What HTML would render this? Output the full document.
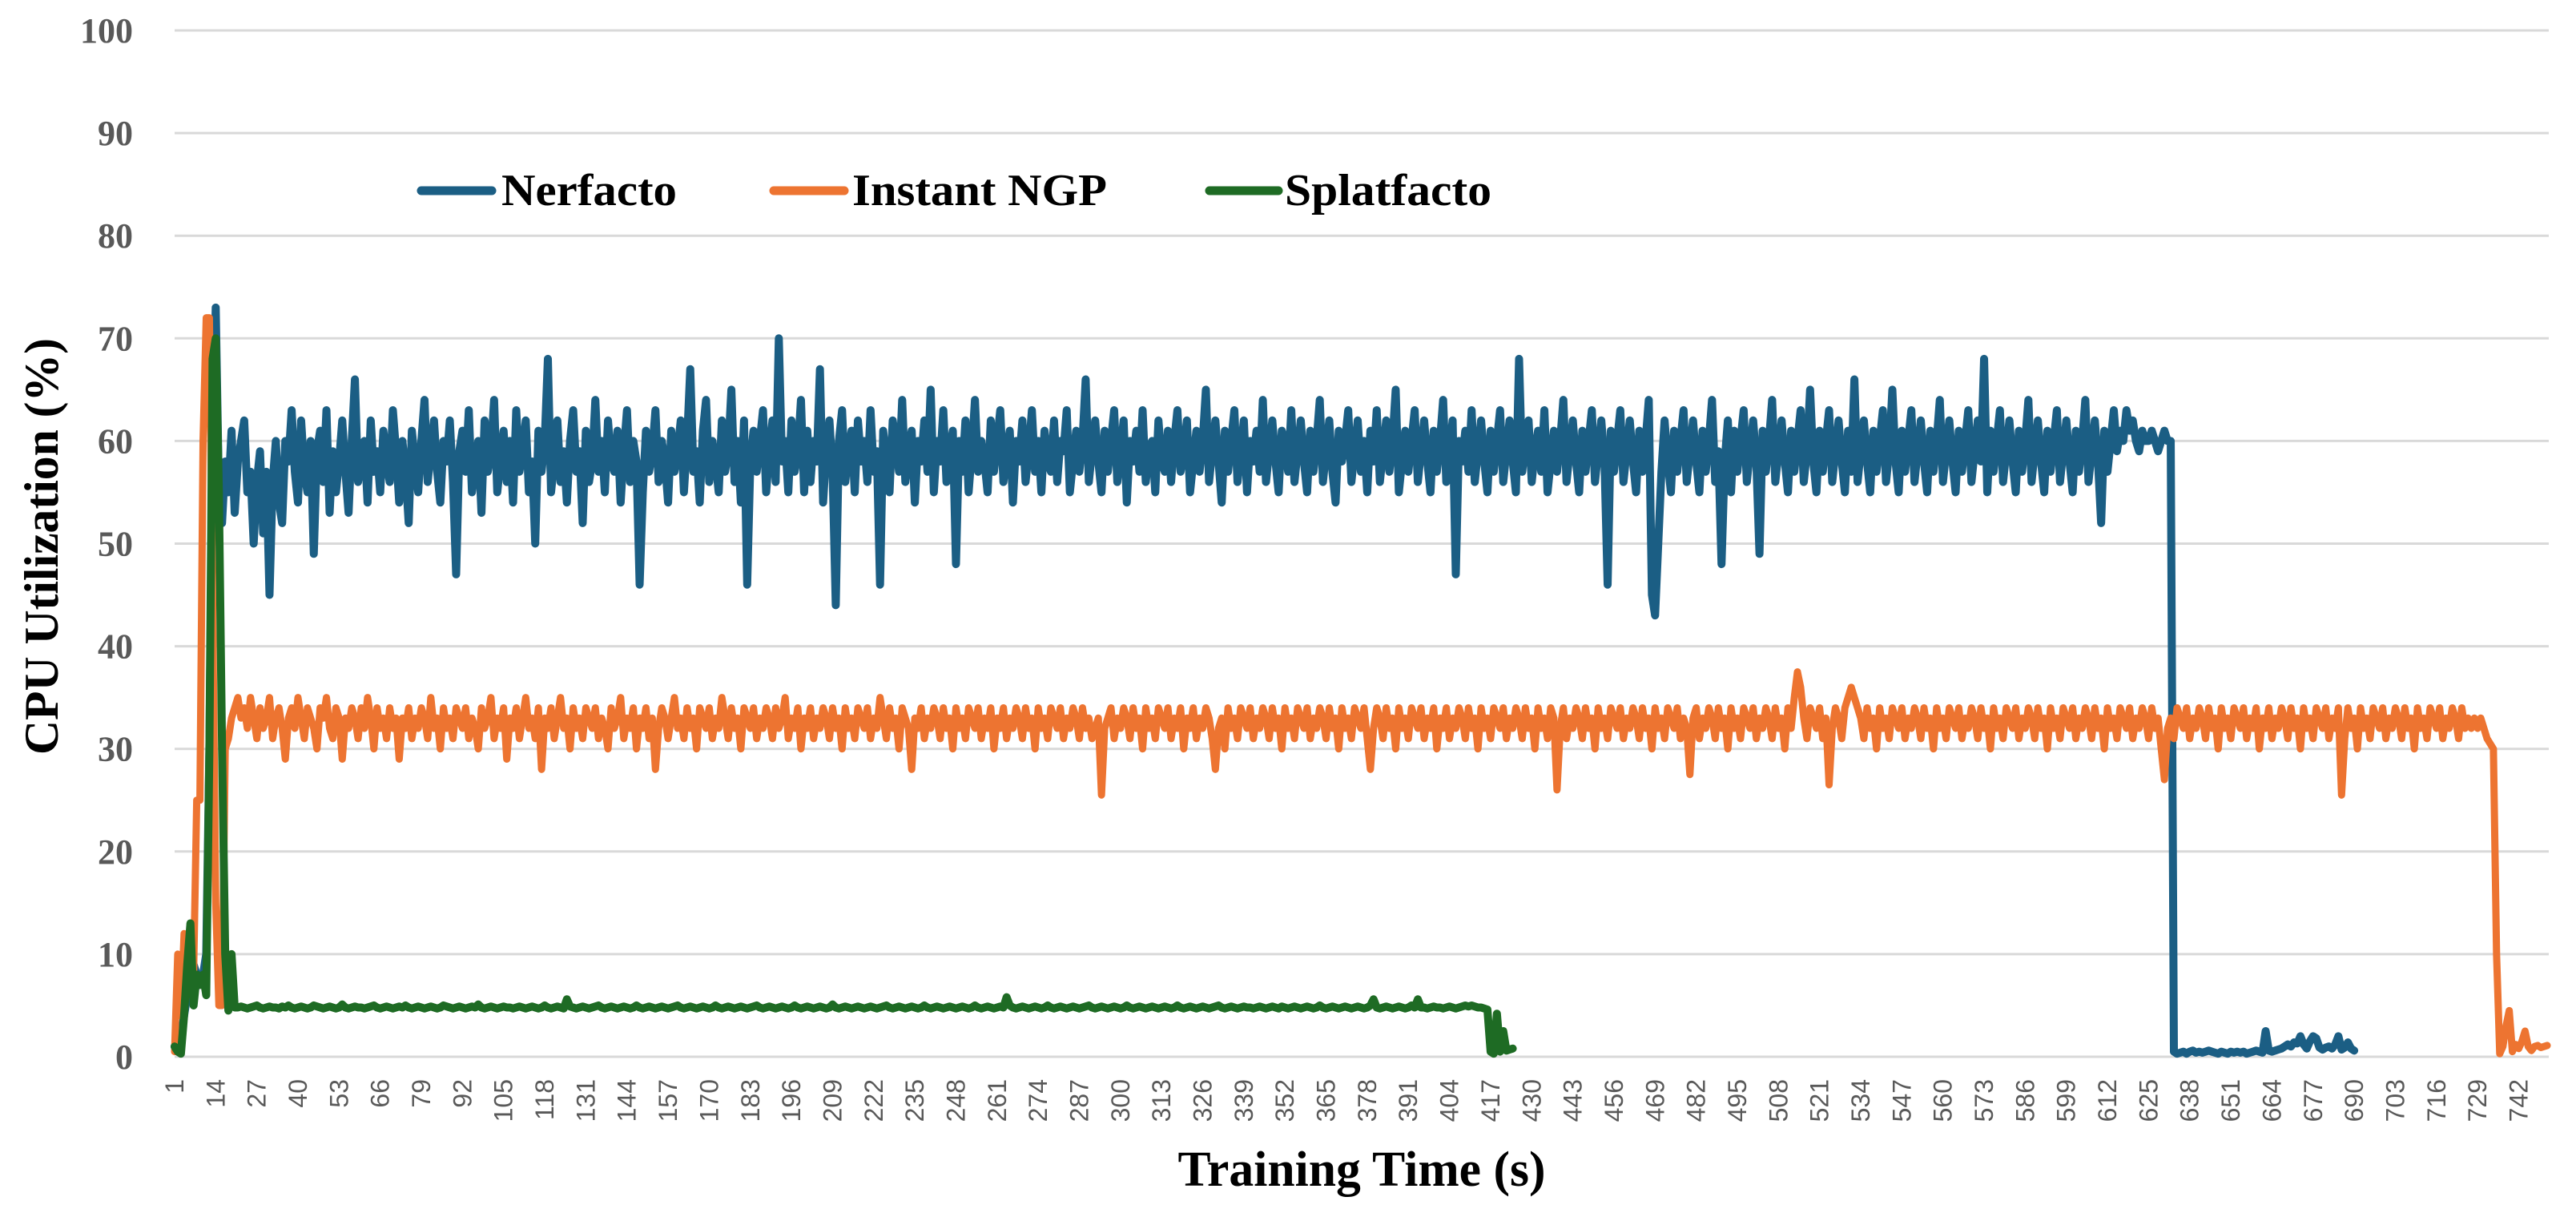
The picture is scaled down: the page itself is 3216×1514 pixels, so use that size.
<!DOCTYPE html>
<html><head><meta charset="utf-8"><style>
html,body{margin:0;padding:0;background:#fff;}
svg{display:block;}
</style></head><body>
<svg id="chart" width="3216" height="1514" viewBox="0 0 3216 1514" xmlns="http://www.w3.org/2000/svg">
<rect width="3216" height="1514" fill="#fff"/>
<g id="grid"></g>
<g id="yticks"></g>
<g id="xticks"></g>
<g id="series"></g>
<text transform="translate(72,682) rotate(-90)" text-anchor="middle" font-family="Liberation Serif, serif" font-weight="bold" font-size="60" fill="#000" textLength="520" lengthAdjust="spacingAndGlyphs">CPU Utilization (%)</text>
<text x="1700" y="1480" text-anchor="middle" font-family="Liberation Serif, serif" font-weight="bold" font-size="62" fill="#000" textLength="459" lengthAdjust="spacingAndGlyphs">Training Time (s)</text>
<g>
  <g>
    <line x1="526" y1="238" x2="614" y2="238" stroke="#1b5e84" stroke-width="11" stroke-linecap="round"/>
    <text x="626" y="256" font-family="Liberation Serif, serif" font-weight="bold" font-size="56" fill="#000" textLength="219" lengthAdjust="spacingAndGlyphs">Nerfacto</text>
  </g>
  <g>
    <line x1="966" y1="238" x2="1054" y2="238" stroke="#ed7431" stroke-width="11" stroke-linecap="round"/>
    <text x="1064" y="256" font-family="Liberation Serif, serif" font-weight="bold" font-size="56" fill="#000" textLength="318" lengthAdjust="spacingAndGlyphs">Instant NGP</text>
  </g>
  <g>
    <line x1="1510" y1="238" x2="1596" y2="238" stroke="#1e6b24" stroke-width="11" stroke-linecap="round"/>
    <text x="1604" y="256" font-family="Liberation Serif, serif" font-weight="bold" font-size="56" fill="#000" textLength="258" lengthAdjust="spacingAndGlyphs">Splatfacto</text>
  </g>
</g>
</svg>
<script>
const yTicks = [0,10,20,30,40,50,60,70,80,90,100];
const xTickStep = 13;
const xTickLast = 742;
const categoryCount = 751;

const nerfacto = [1,0.5,2,4,6,8,9,8,7,8,10,30,60,73,55,
52,58,55,61,53,58,60,62,55,57,50,56,59,51,57,45,56,60,54,52,
60,58,63,57,54,62,57,55,60,49,59,61,56,63,53,59,55,58,62,57,
53,60,66,56,58,60,54,62,57,59,55,61,58,56,63,59,54,60,57,52,
61,58,55,60,64,56,59,62,57,54,60,58,62,56,47,59,61,57,63,55,
58,60,53,62,57,59,64,55,58,61,56,60,54,63,57,59,62,55,58,50,
61,57,60,68,55,58,62,56,59,54,60,63,57,59,52,61,56,58,64,57,
60,55,62,58,57,61,54,59,63,56,60,58,46,55,61,57,59,63,56,60,
58,54,61,57,59,62,55,60,67,57,59,54,61,64,56,60,58,55,62,57,
59,65,56,60,54,62,46,58,61,57,60,63,55,59,62,56,70,58,60,55,
62,57,59,64,55,61,56,60,58,67,54,59,62,57,44,60,63,56,59,61,
55,62,58,60,56,63,57,59,46,61,58,55,62,60,57,64,56,59,61,54,
60,58,62,57,65,55,60,58,63,56,59,61,48,60,57,62,55,59,64,57,
60,58,55,62,57,60,63,56,59,61,54,60,58,62,56,59,63,57,60,55,
61,58,57,62,56,60,59,63,55,58,61,57,60,66,56,59,62,58,55,61,
57,60,63,56,59,62,54,60,58,61,57,63,56,59,60,55,62,58,57,61,
56,60,63,57,59,62,55,58,61,57,60,65,56,59,62,58,54,61,57,60,
63,56,59,62,55,60,58,61,57,64,56,59,62,58,55,61,60,57,63,56,
59,62,58,55,61,57,60,64,56,59,62,57,54,61,58,60,63,56,59,62,
57,60,55,61,58,63,56,59,62,57,60,65,55,58,61,57,60,63,56,59,
62,58,55,61,57,60,64,56,59,62,47,60,58,61,57,63,56,59,62,58,
55,61,57,60,63,56,59,62,58,55,68,57,60,62,56,59,61,57,63,55,
58,61,57,60,64,56,59,62,58,55,61,57,60,63,56,59,62,58,46,61,
57,60,63,56,59,62,58,55,61,57,60,64,45,43,50,57,62,58,55,61,
57,60,63,56,59,62,58,55,61,57,60,64,56,59,48,58,62,55,61,57,
60,63,56,59,62,58,49,61,57,60,64,56,59,62,58,55,61,57,60,63,
56,59,65,58,55,61,57,60,63,56,59,62,58,55,61,57,66,56,59,62,
58,55,61,57,60,63,56,59,65,58,55,61,57,60,63,56,59,62,58,55,
61,57,60,64,56,59,62,58,55,61,57,60,63,56,59,62,58,68,55,61,
57,60,63,56,59,62,58,55,61,57,60,64,56,59,62,58,55,61,57,60,
63,56,59,62,58,55,61,57,60,64,56,59,62,58,52,61,57,60,63,59,
61,60,63,61,62,60,59,61,60,60,61,60,59,60,61,60,60,
0.5,0.3,0.4,0.5,0.3,0.5,0.6,0.4,0.5,0.4,0.5,0.6,0.5,0.4,0.3,0.5,0.4,0.3,0.5,0.4,
0.5,0.4,0.5,0.3,0.4,0.5,0.6,0.5,0.4,2.5,0.6,0.5,0.6,0.7,0.8,1.0,1.2,1.0,1.4,1.3,
2.0,1.2,0.8,1.5,2.0,1.8,0.9,0.7,0.9,1.0,0.8,1.2,2.0,0.7,0.9,1.4,0.8,0.6];

const instantNgp = [0.5,10,4,12,10,13,8,25,25,60,72,72,45,15,5,5,30,
31,33,34,35,33,34,32,35,33,31,34,32,33,35,31,33,34,32,29,33,
34,32,35,33,31,34,33,32,30,34,33,35,32,31,34,33,29,33,32,34,
33,31,34,32,35,33,30,34,32,33,31,34,32,33,29,33,32,34,31,33,
32,34,33,31,35,32,33,30,34,32,33,31,34,33,32,34,31,33,32,30,
34,32,33,35,31,33,32,34,29,33,32,34,31,33,35,32,33,31,34,28,
33,32,34,31,33,35,32,33,30,34,32,33,31,34,33,32,34,31,33,32,
30,34,32,33,35,31,33,32,34,30,33,32,34,31,33,28,32,34,33,31,
33,35,32,33,31,34,32,33,30,34,33,32,34,31,33,32,35,33,31,34,
32,33,30,34,33,32,34,31,33,32,34,33,31,34,32,33,35,31,33,32,
34,30,33,32,34,31,33,32,34,33,31,34,32,33,30,34,32,33,31,34,
33,32,34,31,33,32,35,33,31,34,32,33,30,34,33,32,28,33,32,34,
31,33,32,34,33,31,34,32,33,30,34,32,33,31,34,33,32,34,31,33,
32,34,30,33,32,34,31,33,32,34,33,31,34,32,33,30,34,32,33,31,
34,33,32,34,31,33,32,34,33,31,34,32,33,31,32,33,25.5,32,33,34,
31,33,32,34,33,31,34,32,33,30,34,32,33,31,34,33,32,34,31,33,
32,34,30,33,32,34,31,33,32,34,33,31,28,32,33,30,34,32,33,31,
34,33,32,34,31,33,32,34,33,31,34,32,33,30,34,32,33,31,34,33,
32,34,31,33,32,34,33,31,34,32,33,30,34,32,33,31,34,33,32,34,
31,28,32,34,33,31,34,32,33,30,34,32,33,31,34,33,32,34,31,33,
32,34,30,33,32,34,31,33,32,34,33,31,34,32,33,30,34,32,33,31,
34,33,32,34,31,33,32,34,33,31,34,32,33,30,34,32,33,31,34,33,
26,32,34,31,33,32,34,33,31,34,32,33,30,34,32,33,31,34,33,32,
34,31,33,32,34,33,31,34,32,33,30,34,32,33,31,34,33,32,34,31,
33,32,27.5,33,34,31,33,32,34,33,31,34,32,33,30,34,32,33,31,34,
33,32,34,31,33,32,34,33,31,34,32,33,30,34,32,35,37.5,36,33,31,
34,33,32,34,31,33,26.5,32,34,33,31,34,35,36,35,34,33,31,34,32,
33,30,34,32,33,31,34,33,32,34,31,33,32,34,33,31,34,32,33,30,
34,32,33,31,34,33,32,34,31,33,32,34,33,31,34,32,33,30,34,32,
33,31,34,33,32,34,31,33,32,34,33,31,34,32,33,30,34,32,33,31,
34,33,32,34,31,33,32,34,33,31,34,32,33,30,34,32,33,31,34,33,
32,34,31,33,32,34,33,31,34,32,33,30,27,32,33,31,34,33,32,34,
31,33,32,34,33,31,34,32,33,30,34,32,33,31,34,33,32,34,31,33,
32,34,30,33,32,34,31,33,32,34,33,31,34,32,33,30,34,32,33,31,
34,33,32,34,31,33,32,34,25.5,31,34,32,33,30,34,32,33,31,34,33,
32,34,31,33,32,34,33,31,34,32,33,30,34,32,33,31,34,33,32,34,
31,33,32,34,33,31,34,32,33,32,33,32,33,32,31,30.5,
30,10,0.3,1,3,4.5,0.5,1.2,0.8,1.5,2.5,1,0.6,1,1.1,0.9,1,1.1];

const splatfacto = [1,0.5,0.3,4,9,13,5,8,7,8,6,30,68,70,55,30,10,4.5,10,4.8,
4.8,4.9,4.8,4.7,4.8,4.9,5.0,4.8,4.7,4.8,4.9,4.8,4.8,4.7,4.9,4.8,5.0,4.8,4.7,4.8,
4.9,4.8,4.7,4.8,5.0,4.9,4.8,4.7,4.8,4.9,4.8,4.7,4.8,5.1,4.8,4.7,4.8,4.9,4.8,4.8,
4.7,4.8,4.9,5.0,4.8,4.7,4.8,4.9,4.8,4.7,4.8,4.9,4.8,5.0,4.8,4.7,4.8,4.9,4.8,4.7,
4.8,4.9,4.8,4.7,4.8,5.0,4.9,4.8,4.7,4.8,4.9,4.8,4.7,4.8,4.9,4.8,5.1,4.8,4.7,4.8,
4.9,4.8,4.7,4.8,4.9,4.8,4.8,4.7,4.8,4.9,4.8,4.7,4.8,4.9,4.8,4.7,4.8,5.0,4.8,4.7,
4.8,4.9,4.8,4.7,5.6,4.9,4.8,4.7,4.8,4.9,4.8,4.7,4.8,4.9,5.0,4.8,4.7,4.8,4.9,4.8,
4.7,4.8,4.9,4.8,4.7,4.8,5.0,4.8,4.7,4.8,4.9,4.8,4.7,4.8,4.9,4.8,4.7,4.8,4.9,5.0,
4.8,4.7,4.8,4.9,4.8,4.7,4.8,4.9,4.8,4.7,4.8,5.0,4.8,4.7,4.8,4.9,4.8,4.7,4.8,4.9,
4.8,4.7,4.8,4.9,5.0,4.8,4.7,4.8,4.9,4.8,4.7,4.8,4.9,4.8,4.7,4.8,5.0,4.8,4.7,4.8,
4.9,4.8,4.7,4.8,4.9,4.8,4.7,4.8,5.1,4.8,4.7,4.8,4.9,4.8,4.7,4.8,4.9,4.8,4.7,4.8,
4.9,4.8,4.7,4.8,4.9,5.0,4.8,4.7,4.8,4.9,4.8,4.7,4.8,4.9,4.8,4.7,4.8,5.0,4.8,4.7,
4.8,4.9,4.8,4.7,4.8,4.9,4.8,4.7,4.8,4.9,4.8,4.7,4.8,5.0,4.8,4.7,4.8,4.9,4.8,4.7,
4.8,4.9,4.8,5.8,5.0,4.8,4.7,4.8,4.9,4.8,4.7,4.8,4.9,4.8,4.7,4.8,5.0,4.8,4.7,4.8,
4.9,4.8,4.7,4.8,4.9,4.8,4.7,4.8,4.9,5.0,4.8,4.7,4.8,4.9,4.8,4.7,4.8,4.9,4.8,4.7,
4.8,5.0,4.8,4.7,4.8,4.9,4.8,4.7,4.8,4.9,4.8,4.7,4.8,4.9,4.8,4.7,4.8,5.0,4.8,4.7,
4.8,4.9,4.8,4.7,4.8,4.9,4.8,4.7,4.8,4.9,5.0,4.8,4.7,4.8,4.9,4.8,4.7,4.8,4.9,4.8,
4.8,4.7,4.8,4.9,4.8,4.7,4.8,4.9,4.8,4.7,4.9,4.8,4.7,4.8,4.9,4.8,4.7,4.8,4.9,4.8,
4.7,4.8,5.0,4.8,4.7,4.8,4.9,4.8,4.7,4.8,4.9,4.8,4.7,4.8,4.9,4.8,4.7,4.8,5.0,5.6,
4.8,4.7,4.8,4.9,4.8,4.7,4.8,4.9,4.8,4.7,4.8,5.0,4.8,5.6,4.8,4.8,4.7,4.8,4.9,4.8,
4.8,4.7,4.8,4.9,4.8,4.7,4.8,4.9,5.0,4.9,5.0,4.9,4.8,4.8,4.7,4.6,
0.5,0.3,4.2,0.5,2.5,0.6,0.7,0.8];

const NS = 'http://www.w3.org/2000/svg';
const plotLeft = 216, plotRight = 3182, yZero = 1319, yTop = 38;
const catW = (plotRight - plotLeft) / categoryCount;
function xScale(i) { return plotLeft + (i - 0.5) * catW; }
function yScale(v) { return yZero - (v / 100) * (yZero - yTop); }

const grid = document.getElementById('grid');
const yt = document.getElementById('yticks');
yTicks.forEach(function (t) {
  const ln = document.createElementNS(NS, 'line');
  
  
  ln.setAttribute('x1', 218); ln.setAttribute('x2', plotRight);
  ln.setAttribute('y1', yScale(t)); ln.setAttribute('y2', yScale(t));
  ln.setAttribute('stroke', '#d9d9d9'); ln.setAttribute('stroke-width', '3');
  grid.appendChild(ln);
  const tx = document.createElementNS(NS, 'text');
  
  
  tx.setAttribute('x', 166); tx.setAttribute('y', yScale(t) + 15);
  tx.setAttribute('text-anchor', 'end');
  tx.setAttribute('font-family', 'Liberation Serif, serif');
  tx.setAttribute('font-weight', 'bold');
  tx.setAttribute('font-size', '44');
  tx.setAttribute('fill', '#595959');
  tx.textContent = t;
  yt.appendChild(tx);
});

const xt = document.getElementById('xticks');
for (let c = 1; c <= xTickLast; c += xTickStep) {
  const tx = document.createElementNS(NS, 'text');
  
  
  const x = xScale(c) + 11;
  tx.setAttribute('transform', 'translate(' + x + ',1347) rotate(-90)');
  tx.setAttribute('text-anchor', 'end');
  tx.setAttribute('font-family', 'Liberation Sans, sans-serif');
  tx.setAttribute('font-size', '32');
  tx.setAttribute('fill', '#595959');
  tx.textContent = c;
  xt.appendChild(tx);
}

const seriesG = document.getElementById('series');
function drawSeries(vals, color, width, name) {
  const pts = vals.map(function (v, i) { return xScale(i + 1).toFixed(2) + ',' + yScale(v).toFixed(2); }).join(' ');
  const pl = document.createElementNS(NS, 'polyline');
  
  
  pl.setAttribute('points', pts);
  pl.setAttribute('fill', 'none');
  pl.setAttribute('stroke', color);
  pl.setAttribute('stroke-width', width);
  pl.setAttribute('stroke-linejoin', 'round');
  pl.setAttribute('stroke-linecap', 'round');
  seriesG.appendChild(pl);
}
drawSeries(nerfacto, '#1b5e84', 10, 'nerfacto-line');
drawSeries(instantNgp, '#ed7431', 9, 'instant-ngp-line');
drawSeries(splatfacto, '#1e6b24', 10, 'splatfacto-line');
</script>
</body></html>
